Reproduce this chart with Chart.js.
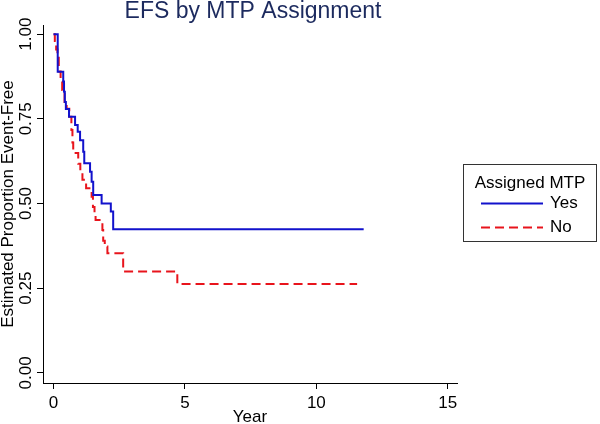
<!DOCTYPE html>
<html>
<head>
<meta charset="utf-8">
<script src="https://cdn.jsdelivr.net/npm/chart.js@4.4.1/dist/chart.umd.min.js"></script>
<style>
  html, body { margin: 0; padding: 0; background: #fff; }
  #wrap { width: 600px; height: 424px; }
</style>
</head>
<body>
<div id="wrap"><canvas id="efs-chart" width="600" height="424"></canvas></div>
<script>
const chartTitle = 'EFS by MTP Assignment';
const xTitle = 'Year';
const yTitle = 'Estimated Proportion Event-Free';
const legendTitle = 'Assigned MTP';
const groups = ['Yes', 'No'];
const xTicks = [0, 5, 10, 15];
const yTicks = [0, 0.25, 0.5, 0.75, 1];

// Kaplan-Meier steps: time of each drop, survival just after it
const yesTime = [0, 0.16, 0.37, 0.40, 0.43, 0.47, 0.59, 0.82, 0.92, 1.01, 1.13, 1.17, 1.39, 1.45, 1.51, 1.83, 2.18, 2.27, 11.8];
const yesSurv = [1.0, 0.889, 0.86, 0.83, 0.80, 0.779, 0.756, 0.732, 0.712, 0.687, 0.653, 0.619, 0.594, 0.564, 0.525, 0.50, 0.476, 0.424, 0.424];
const noTime = [0, 0.05, 0.10, 0.15, 0.20, 0.27, 0.33, 0.42, 0.50, 0.60, 0.68, 0.72, 0.75, 0.94, 1.02, 1.10, 1.24, 1.45, 1.50, 1.56, 1.60, 1.64, 1.86, 1.89, 1.95, 2.05, 2.65, 4.71, 11.55];
const noSurv = [1.0, 0.98, 0.955, 0.93, 0.89, 0.86, 0.835, 0.80, 0.78, 0.756, 0.717, 0.68, 0.649, 0.617, 0.594, 0.57, 0.545, 0.52, 0.49, 0.465, 0.451, 0.451, 0.422, 0.39, 0.373, 0.353, 0.299, 0.262, 0.262];

const FONT = "'Liberation Sans', Arial, sans-serif";

function toPoints(times, surv) {
  return times.map((t, i) => ({ x: t, y: surv[i] }));
}

// title, rotated y tick labels and the boxed legend
const extras = {
  id: 'extras',
  afterDraw(chart) {
    const ctx = chart.ctx;
    const area = chart.chartArea;
    const yScale = chart.scales.y;

    ctx.save();
    ctx.fillStyle = '#1c2a5e';
    ctx.font = `23px ${FONT}`;
    ctx.textAlign = 'center';
    ctx.textBaseline = 'alphabetic';
    ctx.fillText(chartTitle, (area.left + area.right) / 2 + 3, 18);

    ctx.fillStyle = '#000';
    ctx.font = `17px ${FONT}`;
    ctx.textBaseline = 'middle';
    yTicks.forEach(v => {
      ctx.save();
      ctx.translate(26, yScale.getPixelForValue(v));
      ctx.rotate(-Math.PI / 2);
      ctx.fillText(v.toFixed(2), 0, 0);
      ctx.restore();
    });

    // legend
    const bx = 463.5, by = 164.5, bw = 133, bh = 77;
    ctx.strokeStyle = '#333';
    ctx.lineWidth = 1;
    ctx.strokeRect(bx, by, bw, bh);
    ctx.font = `17px ${FONT}`;
    ctx.fillText(legendTitle, bx + bw / 2, by + 19);
    chart.data.datasets.forEach((ds, i) => {
      const ly = by + 39 + i * 24;
      ctx.strokeStyle = ds.borderColor;
      ctx.lineWidth = ds.borderWidth;
      ctx.setLineDash(ds.borderDash || []);
      ctx.beginPath();
      ctx.moveTo(481, ly);
      ctx.lineTo(543, ly);
      ctx.stroke();
      ctx.setLineDash([]);
      ctx.textAlign = 'left';
      ctx.fillStyle = '#000';
      ctx.fillText(ds.label, 550, ly);
    });
    ctx.restore();
  }
};

const ctx = document.getElementById('efs-chart').getContext('2d');
new Chart(ctx, {
  type: 'line',
  data: {
    datasets: [{
      label: groups[0],
      data: toPoints(yesTime, yesSurv),
      borderColor: '#1212cc',
      borderWidth: 2,
      stepped: 'before',
      pointRadius: 0,
      fill: false,
    }, {
      label: groups[1],
      data: toPoints(noTime, noSurv),
      borderColor: '#e8141c',
      borderWidth: 2,
      borderDash: [9, 5],
      stepped: 'before',
      pointRadius: 0,
      fill: false,
    }]
  },
  options: {
    responsive: false,
    animation: false,
    devicePixelRatio: 1,
    layout: { padding: { top: 25, right: 143, left: 0, bottom: 0 } },
    plugins: {
      legend: { display: false },
      title: { display: false },
      tooltip: { enabled: false }
    },
    scales: {
      x: {
        type: 'linear',
        min: -0.4,
        max: 15.35,
        afterBuildTicks: axis => { axis.ticks = xTicks.map(v => ({ value: v })); },
        afterFit: axis => { axis.height = 41; },
        grid: { display: true, drawOnChartArea: false, drawTicks: true, tickLength: 6, color: '#000' },
        border: { display: true, color: '#000', width: 1 },
        ticks: { color: '#000', font: { family: FONT, size: 17 }, padding: 4, maxRotation: 0 },
        title: { display: true, text: xTitle, color: '#000', font: { family: FONT, size: 17, lineHeight: 1 }, padding: { top: 0, bottom: -2 } }
      },
      y: {
        type: 'linear',
        min: -0.03,
        max: 1.027,
        afterBuildTicks: axis => { axis.ticks = yTicks.map(v => ({ value: v })); },
        afterFit: axis => { axis.width = 43; },
        grid: { display: true, drawOnChartArea: false, drawTicks: true, tickLength: 6, color: '#000' },
        border: { display: true, color: '#000', width: 1 },
        ticks: { display: false },
        title: { display: true, text: yTitle, color: '#000', font: { family: FONT, size: 17, lineHeight: 1 }, padding: { top: 0, bottom: 0 } }
      }
    }
  },
  plugins: [extras]
});
</script>
</body>
</html>
